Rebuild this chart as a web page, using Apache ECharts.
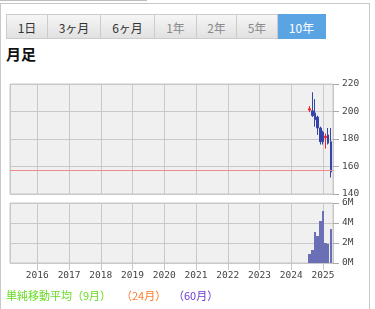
<!DOCTYPE html>
<html><head><meta charset="utf-8">
<script src="https://cdn.jsdelivr.net/npm/echarts@6/dist/echarts.min.js"></script>
<style>
html,body{margin:0;padding:0;background:#fff;}
#wrap{position:relative;width:375px;height:309px;overflow:hidden;font-family:"Noto Sans CJK JP","Noto Sans",sans-serif;}
#chart{position:absolute;left:0;top:0;width:375px;height:309px;}
.frame{position:absolute;left:0;top:3px;width:368px;height:330px;border:1px solid #c8c8c8;}
.topbar{position:absolute;left:0;top:0;width:147px;height:1px;background:#bdbdbd;}
.tabs{position:absolute;left:6px;top:14px;height:25px;display:flex;}
.tab{box-sizing:border-box;height:25px;line-height:26px;text-align:center;font-size:12px;color:#333;border:1px solid #ccc;border-left:none;background:linear-gradient(#f6f6f6,#e1e1e1);}
.tab:first-child{border-left:1px solid #ccc;}
.tab.dis{color:#8a8a8a;}
.tab.on{background:#5aa4e4;color:#fff;border-color:#5aa4e4;}
.title{position:absolute;left:6px;top:45px;font-size:15px;line-height:17px;font-weight:bold;color:#111;}
.lg{position:absolute;top:289px;font-size:11px;line-height:13px;white-space:pre;}
</style></head>
<body>
<div id="wrap">
  <div class="topbar"></div>
  <div class="frame"></div>
  <div class="tabs">
    <div class="tab" style="width:42px">1日</div>
    <div class="tab" style="width:53px">3ヶ月</div>
    <div class="tab" style="width:54px">6ヶ月</div>
    <div class="tab dis" style="width:42px">1年</div>
    <div class="tab dis" style="width:40px">2年</div>
    <div class="tab dis" style="width:41px">5年</div>
    <div class="tab on" style="width:48px">10年</div>
  </div>
  <div class="title">月足</div>
  <div id="chart"></div>
  <div class="lg" style="left:6px;color:#66dd22">単純移動平均（9月）</div>
  <div class="lg" style="left:121px;color:#ff7a2a">（24月）</div>
  <div class="lg" style="left:173px;color:#6a3ad0">（60月）</div>
</div>
<script>
// ---- data (monthly candles) ----
const months  = ['2024-08-01','2024-09-01','2024-10-01','2024-11-01','2024-12-01','2025-01-01','2025-02-01','2025-03-01','2025-04-01'];
const opens   = [201.0, 200.5, 199.0, 196.0, 188.0, 185.0, 181.0, 183.0, 178.0];
const closes  = [202.0, 197.0, 194.0, 188.0, 178.0, 178.0, 182.0, 177.0, 156.0];
const lows    = [199.5, 196.0, 189.0, 183.0, 176.0, 176.0, 173.0, 176.0, 152.0];
const highs   = [204.0, 214.0, 209.0, 197.0, 189.0, 186.0, 184.0, 188.0, 188.0];
const volumes = [0.9, 1.3, 3.1, 2.7, 4.2, 5.2, 2.0, 1.9, 3.4]; // millions
const priceLine = 157;
const xRange = ['2015-02-21', '2025-04-26'];
const priceTicks = [140, 220, 20];
const volTicks = [0, 6, 2]; // millions

const labelFont = {color:'#444', fontFamily:'DejaVu Sans Mono', fontSize:9.5};
const gridLine = {color:'#c8c8c8', width:1};
const DAY = 86400000;
const YEAR = 365 * DAY;

function xAxis(gridIndex, withLabels) {
  return {
    type:'time', gridIndex, min:xRange[0], max:xRange[1], maxInterval:YEAR,
    axisLine:{show:false},
    axisTick:{show:withLabels, length:7, lineStyle:{color:'#c8c8c8'}},
    axisLabel:Object.assign({show:withLabels, margin:8, showMinLabel:false, showMaxLabel:false,
      formatter:v => String(new Date(v).getFullYear())}, labelFont),
    splitLine:{show:true, lineStyle:gridLine}
  };
}

// monthly volume bar: one month wide, centred on the month's date, snapped to whole pixels
function renderVolume(params, api) {
  const t = api.value(0), v = api.value(1);
  const half = 15.2 * DAY;
  const a = api.coord([t - half, v]);
  const b = api.coord([t + half, 0]);
  const x0 = Math.round(a[0]), x1 = Math.round(b[0]);
  return {type:'rect', shape:{x:x0, y:a[1], width:x1 - x0, height:b[1] - a[1]},
          style:{fill:'#6b6fb6'}};
}

const chart = echarts.init(document.getElementById('chart'), null, {renderer:'canvas'});
chart.setOption({
  animation:false,
  grid:[
    {left:10, right:42, top:84, height:110, show:true, backgroundColor:'#f0f0f0', borderColor:'#c8c8c8', borderWidth:1},
    {left:10, right:42, top:203, height:60, show:true, backgroundColor:'#f0f0f0', borderColor:'#c8c8c8', borderWidth:1}
  ],
  xAxis:[xAxis(0,false), xAxis(1,true)],
  yAxis:[
    {type:'value', gridIndex:0, position:'right', min:priceTicks[0], max:priceTicks[1], interval:priceTicks[2],
     axisLine:{show:false}, axisTick:{show:true, length:6, lineStyle:{color:'#aaa'}},
     axisLabel:Object.assign({margin:9}, labelFont), splitLine:{lineStyle:gridLine}},
    {type:'value', gridIndex:1, position:'right', min:volTicks[0]*1e6, max:volTicks[1]*1e6, interval:volTicks[2]*1e6,
     axisLine:{show:false}, axisTick:{show:true, length:6, lineStyle:{color:'#aaa'}},
     axisLabel:Object.assign({margin:9, formatter:v => (v/1e6) + 'M'}, labelFont), splitLine:{lineStyle:gridLine}}
  ],
  series:[
    {type:'candlestick', xAxisIndex:0, yAxisIndex:0, barWidth:2,
     data:months.map((m,i) => [m, opens[i], closes[i], lows[i], highs[i]]),
     itemStyle:{color:'#ff2020', color0:'#3444a8', borderColor:'#ff2020', borderColor0:'#3444a8', borderWidth:1},
     markLine:{silent:true, symbol:'none', label:{show:false}, lineStyle:{color:'#f08a8a', width:1, type:'solid'},
       data:[{yAxis:priceLine}]}},
    {type:'custom', xAxisIndex:1, yAxisIndex:1, clip:true, renderItem:renderVolume,
     dimensions:[{name:'month', type:'time'}, {name:'volume', type:'number'}],
     encode:{x:0, y:1},
     data:months.map((m,i) => [m, volumes[i]*1e6])}
  ]
});
</script>
</body></html>
